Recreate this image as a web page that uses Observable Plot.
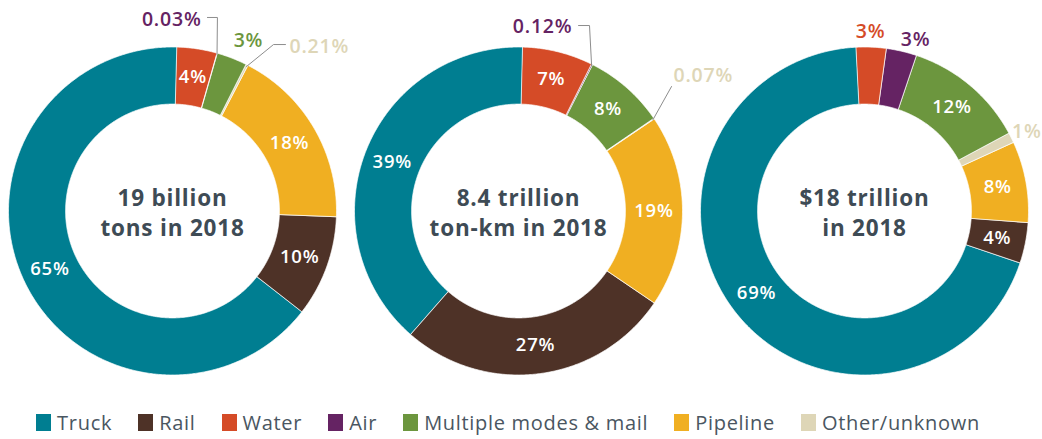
<!DOCTYPE html>
<html>
<head>
<meta charset="utf-8">
<script src="https://cdn.jsdelivr.net/npm/d3@7"></script>
<script src="https://cdn.jsdelivr.net/npm/@observablehq/plot@0.6"></script>
<style>
  body { margin: 0; background: #fff; font-family: "Open Sans", sans-serif; }
  #wrap { width: 1042px; }
  #chart svg text { letter-spacing: 0.8px; }
  #legend { padding-top: 11px; letter-spacing: 0.7px; }
  #legend > div { justify-content: center; margin: 0 !important; }
  #legend svg { margin-right: 6px !important; }
  #legend span { margin-right: 26px !important; }
</style>
</head>
<body>
<div id="wrap"><div id="chart"></div><div id="legend"></div></div>
<script>
// ---------- data ----------
const charts = ["tons", "tonkm", "value"];
const centerLabels = ["19 billion\ntons in 2018", "8.4 trillion\nton-km in 2018", "$18 trillion\nin 2018"];
// slice order, clockwise from 12 o'clock
const modes = ["Water", "Air", "Multiple modes & mail", "Other/unknown", "Pipeline", "Rail", "Truck"];
const tonsShare  = [4, 0.03, 3, 0.21, 18, 10, 65];
const tonkmShare = [7, 0.12, 8, 0.07, 19, 27, 39];
const valueShare = [3, 3, 12, 1, 8, 4, 69];
const legendOrder = ["Truck", "Rail", "Water", "Air", "Multiple modes & mail", "Pipeline", "Other/unknown"];
const legendColors = ["#007e91", "#4e3227", "#d54b27", "#652363", "#6c963e", "#f0af22", "#ded6b7"];

// ---------- layout ----------
const shareSets = [tonsShare, tonkmShare, valueShare];
const startDeg = [1.5, 1.4, -3];
const innerR = 0.652;
const midR = (1 + innerR) / 2;
// outside labels (positions in units of outer radius, relative to donut center)
const callouts = [
  {chart: "tons",  mode: "Air",                   anchor: "end",    tx: 0.177, ty: 1.168, path: [[0.274, 1.180], [0.213, 1.180]]},
  {chart: "tons",  mode: "Multiple modes & mail", anchor: "middle", tx: 0.463, ty: 1.040, path: null},
  {chart: "tons",  mode: "Other/unknown",         anchor: "start",  tx: 0.713, ty: 1.003, path: [[0.616, 1.015], [0.689, 1.015]]},
  {chart: "tonkm", mode: "Air",                   anchor: "end",    tx: 0.329, ty: 1.125, path: [[0.433, 1.131], [0.366, 1.131]]},
  {chart: "tonkm", mode: "Other/unknown",         anchor: "start",  tx: 0.945, ty: 0.826, path: [[0.933, 0.759]]},
  {chart: "value", mode: "Water",                 anchor: "middle", tx: 0.037, ty: 1.095, path: null},
  {chart: "value", mode: "Air",                   anchor: "middle", tx: 0.311, ty: 1.046, path: null},
  {chart: "value", mode: "Other/unknown",         anchor: "start",  tx: 0.9, ty: 0.485, path: null}
];

// ---------- build geometry from data ----------
const slicePts = [];
const sliceInfo = [];
charts.forEach((c, i) => {
  const a0 = startDeg[i] * Math.PI / 180;
  const arcs = d3.pie().sort(null).startAngle(a0).endAngle(a0 + 2 * Math.PI)(shareSets[i]);
  arcs.forEach((arc, j) => {
    const s = arc.startAngle, e = arc.endAngle;
    const n = Math.max(2, Math.ceil((e - s) / 0.008));
    const key = c + "-" + j;
    for (let k = 0; k <= n; k++) { const t = s + (e - s) * k / n; slicePts.push({chart: c, mode: modes[j], key, x: Math.sin(t), y: Math.cos(t)}); }
    for (let k = n; k >= 0; k--) { const t = s + (e - s) * k / n; slicePts.push({chart: c, mode: modes[j], key, x: innerR * Math.sin(t), y: innerR * Math.cos(t)}); }
    sliceInfo.push({chart: c, mode: modes[j], share: shareSets[i][j], mid: (s + e) / 2, label: shareSets[i][j] + "%"});
  });
});
const isCallout = (d) => callouts.some(o => o.chart === d.chart && o.mode === d.mode);
const inside = sliceInfo.filter(d => !isCallout(d)).map(d => ({...d, x: midR * Math.sin(d.mid), y: midR * Math.cos(d.mid)}));
const outside = callouts.map(o => {
  const d = sliceInfo.find(s => s.chart === o.chart && s.mode === o.mode);
  return {...d, x: o.tx, y: o.ty, anchor: o.anchor};
});
const leaders = [];
callouts.filter(o => o.path).forEach((o, i) => {
  const d = sliceInfo.find(s => s.chart === o.chart && s.mode === o.mode);
  leaders.push({chart: o.chart, id: i, x: 0.99 * Math.sin(d.mid), y: 0.99 * Math.cos(d.mid)});
  o.path.forEach(p => leaders.push({chart: o.chart, id: i, x: p[0], y: p[1]}));
});
const centers = charts.map((c, i) => ({chart: c, text: centerLabels[i]}));

const H = 395, R = 164, CY = 210.5;
const outsideMark = (anchor) => Plot.text(outside.filter(d => d.anchor === anchor), {
  fx: "chart", x: "x", y: "y", text: "label", fill: "mode", textAnchor: anchor,
  fontSize: 19.5, fontWeight: 600
});

const chart = Plot.plot({
  width: 1042, height: H,
  marginLeft: 0, marginRight: 4, marginTop: 0, marginBottom: 0,
  fx: {domain: charts, axis: null, padding: 0},
  x: {domain: [-172 / R, 174 / R], axis: null},
  y: {domain: [-(H - CY) / R, CY / R], axis: null},
  color: {domain: legendOrder, range: legendColors},
  style: {fontFamily: "'Open Sans', sans-serif", background: "white"},
  marks: [
    Plot.line(slicePts, {fx: "chart", x: "x", y: "y", z: "key", fill: "mode", stroke: "white", strokeWidth: 0.7, curve: "linear-closed"}),
    Plot.line(leaders, {fx: "chart", x: "x", y: "y", z: "id", stroke: "#8d8d8d", strokeWidth: 1}),
    Plot.text(inside, {fx: "chart", x: "x", y: "y", text: "label", fill: "white", fontSize: 18.5, fontWeight: 600}),
    outsideMark("start"), outsideMark("middle"), outsideMark("end"),
    Plot.text(centers, {fx: "chart", x: () => 0, y: () => 0, text: "text", fill: "#3e4b55", fontSize: 22.5, fontWeight: 700, lineHeight: 1.34})
  ]
});
document.getElementById("chart").appendChild(chart);

const legend = Plot.legend({
  color: {domain: legendOrder, range: legendColors},
  legend: "swatches", swatchWidth: 15, swatchHeight: 17,
  style: {fontSize: "20px", fontFamily: "'Open Sans', sans-serif", color: "#4a5661"}
});
document.getElementById("legend").appendChild(legend);
</script>
</body>
</html>
